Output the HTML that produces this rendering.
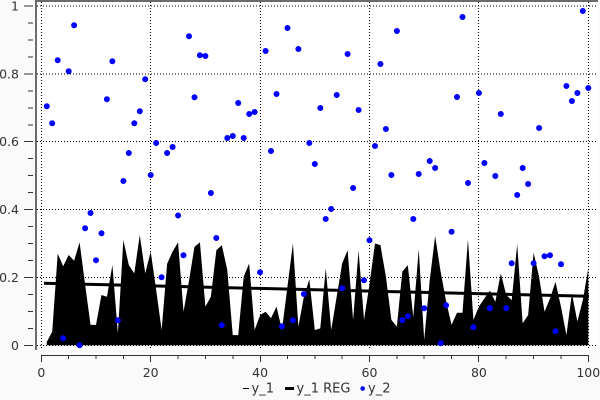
<!DOCTYPE html>
<html>
<head>
<meta charset="utf-8">
<style>
html,body{margin:0;padding:0;background:#fafafa;}
svg{display:block;}
text{font-family:"DejaVu Sans","Liberation Sans",sans-serif;fill:#333;}
</style>
</head>
<body>
<svg width="600" height="400" viewBox="0 0 600 400" xmlns="http://www.w3.org/2000/svg">
<rect x="0" y="0" width="600" height="400" fill="#fafafa"/>
<rect x="37" y="2" width="561" height="348" fill="#ffffff"/>
<rect x="35" y="0" width="563" height="2" fill="#6b6b6b"/>
<rect x="35" y="0" width="2" height="350" fill="#6b6b6b"/>
<g stroke="#000" stroke-width="1" stroke-dasharray="1,2" fill="none">
<path d="M37 6H598M37 74H598M37 141.5H598M37 209.5H598M37 277.5H598M37 345.5H598M41.5 2V350M150.5 2V350M260.5 2V350M369.5 2V350M478.5 2V350M588.5 2V350"/>
</g>
<g transform="translate(41.3,345.3) scale(5.47,-339.5)">
<polygon fill="#000" points="1,0 1,0.01 2,0.04 3,0.27 4,0.233 5,0.266 6,0.249 7,0.303 8,0.18 9,0.06 10,0.06 11,0.148 12,0.143 13,0.236 14,0.035 15,0.31 16,0.236 17,0.212 18,0.325 19,0.212 20,0.276 21,0.163 22,0.045 23,0.24 24,0.276 25,0.303 26,0.099 27,0.19 28,0.29 29,0.303 30,0.114 31,0.143 32,0.28 33,0.295 34,0.222 35,0.03 36,0.03 37,0.202 38,0.241 39,0.045 40,0.089 41,0.099 42,0.08 43,0.114 44,0.045 45,0.173 46,0.3 47,0.055 48,0.143 49,0.194 50,0.045 51,0.05 52,0.227 53,0.045 54,0.143 55,0.241 56,0.28 57,0.075 58,0.279 59,0.075 60,0.18 61,0.3 62,0.295 63,0.202 64,0.075 65,0.055 66,0.217 67,0.236 68,0.083 69,0.283 70,0.016 71,0.19 72,0.322 73,0.217 74,0.13 75,0.06 76,0.096 77,0.096 78,0.312 79,0.075 80,0.114 81,0.138 82,0.161 83,0.128 84,0.212 85,0.148 86,0.133 87,0.298 88,0.065 89,0.089 90,0.273 91,0.202 92,0.099 93,0.138 94,0.187 95,0.114 96,0.03 97,0.153 98,0.07 99,0.133 100,0.227 100,0"/>
</g>
<line x1="44" y1="283.3" x2="589" y2="296.3" stroke="#000" stroke-width="3"/>
<path fill="#0000ff" d="M46.8 106.3m-3 0a3 3 0 1 0 6 0a3 3 0 1 0 -6 0M52.2 123.3m-3 0a3 3 0 1 0 6 0a3 3 0 1 0 -6 0M57.7 60.3m-3 0a3 3 0 1 0 6 0a3 3 0 1 0 -6 0M63.2 338.3m-3 0a3 3 0 1 0 6 0a3 3 0 1 0 -6 0M68.7 71.3m-3 0a3 3 0 1 0 6 0a3 3 0 1 0 -6 0M74.1 25.3m-3 0a3 3 0 1 0 6 0a3 3 0 1 0 -6 0M79.6 345.3m-3 0a3 3 0 1 0 6 0a3 3 0 1 0 -6 0M85.1 228.3m-3 0a3 3 0 1 0 6 0a3 3 0 1 0 -6 0M90.5 213m-3 0a3 3 0 1 0 6 0a3 3 0 1 0 -6 0M96 260.3m-3 0a3 3 0 1 0 6 0a3 3 0 1 0 -6 0M101.5 233.3m-3 0a3 3 0 1 0 6 0a3 3 0 1 0 -6 0M106.9 99.3m-3 0a3 3 0 1 0 6 0a3 3 0 1 0 -6 0M112.4 61.3m-3 0a3 3 0 1 0 6 0a3 3 0 1 0 -6 0M117.9 320.3m-3 0a3 3 0 1 0 6 0a3 3 0 1 0 -6 0M123.4 181m-3 0a3 3 0 1 0 6 0a3 3 0 1 0 -6 0M128.8 153m-3 0a3 3 0 1 0 6 0a3 3 0 1 0 -6 0M134.3 123.3m-3 0a3 3 0 1 0 6 0a3 3 0 1 0 -6 0M139.8 111.3m-3 0a3 3 0 1 0 6 0a3 3 0 1 0 -6 0M145.2 79.3m-3 0a3 3 0 1 0 6 0a3 3 0 1 0 -6 0M150.7 175m-3 0a3 3 0 1 0 6 0a3 3 0 1 0 -6 0M156.2 143m-3 0a3 3 0 1 0 6 0a3 3 0 1 0 -6 0M161.6 277.3m-3 0a3 3 0 1 0 6 0a3 3 0 1 0 -6 0M167.1 153m-3 0a3 3 0 1 0 6 0a3 3 0 1 0 -6 0M172.6 147m-3 0a3 3 0 1 0 6 0a3 3 0 1 0 -6 0M178.1 215.5m-3 0a3 3 0 1 0 6 0a3 3 0 1 0 -6 0M183.5 255.3m-3 0a3 3 0 1 0 6 0a3 3 0 1 0 -6 0M189 36.3m-3 0a3 3 0 1 0 6 0a3 3 0 1 0 -6 0M194.5 97.3m-3 0a3 3 0 1 0 6 0a3 3 0 1 0 -6 0M199.9 55.3m-3 0a3 3 0 1 0 6 0a3 3 0 1 0 -6 0M205.4 56m-3 0a3 3 0 1 0 6 0a3 3 0 1 0 -6 0M210.9 193m-3 0a3 3 0 1 0 6 0a3 3 0 1 0 -6 0M216.3 238m-3 0a3 3 0 1 0 6 0a3 3 0 1 0 -6 0M221.8 325.3m-3 0a3 3 0 1 0 6 0a3 3 0 1 0 -6 0M227.3 138m-3 0a3 3 0 1 0 6 0a3 3 0 1 0 -6 0M232.8 136m-3 0a3 3 0 1 0 6 0a3 3 0 1 0 -6 0M238.2 103m-3 0a3 3 0 1 0 6 0a3 3 0 1 0 -6 0M243.7 138m-3 0a3 3 0 1 0 6 0a3 3 0 1 0 -6 0M249.2 114m-3 0a3 3 0 1 0 6 0a3 3 0 1 0 -6 0M254.6 112m-3 0a3 3 0 1 0 6 0a3 3 0 1 0 -6 0M260.1 272.3m-3 0a3 3 0 1 0 6 0a3 3 0 1 0 -6 0M265.6 51m-3 0a3 3 0 1 0 6 0a3 3 0 1 0 -6 0M271 151m-3 0a3 3 0 1 0 6 0a3 3 0 1 0 -6 0M276.5 94m-3 0a3 3 0 1 0 6 0a3 3 0 1 0 -6 0M282 326.3m-3 0a3 3 0 1 0 6 0a3 3 0 1 0 -6 0M287.5 28m-3 0a3 3 0 1 0 6 0a3 3 0 1 0 -6 0M292.9 320.3m-3 0a3 3 0 1 0 6 0a3 3 0 1 0 -6 0M298.4 49m-3 0a3 3 0 1 0 6 0a3 3 0 1 0 -6 0M303.9 294m-3 0a3 3 0 1 0 6 0a3 3 0 1 0 -6 0M309.3 143m-3 0a3 3 0 1 0 6 0a3 3 0 1 0 -6 0M314.8 164m-3 0a3 3 0 1 0 6 0a3 3 0 1 0 -6 0M320.3 108m-3 0a3 3 0 1 0 6 0a3 3 0 1 0 -6 0M325.7 219m-3 0a3 3 0 1 0 6 0a3 3 0 1 0 -6 0M331.2 209m-3 0a3 3 0 1 0 6 0a3 3 0 1 0 -6 0M336.7 95m-3 0a3 3 0 1 0 6 0a3 3 0 1 0 -6 0M342.2 288.3m-3 0a3 3 0 1 0 6 0a3 3 0 1 0 -6 0M347.6 54m-3 0a3 3 0 1 0 6 0a3 3 0 1 0 -6 0M353.1 188m-3 0a3 3 0 1 0 6 0a3 3 0 1 0 -6 0M358.6 110m-3 0a3 3 0 1 0 6 0a3 3 0 1 0 -6 0M364 280.3m-3 0a3 3 0 1 0 6 0a3 3 0 1 0 -6 0M369.5 240.3m-3 0a3 3 0 1 0 6 0a3 3 0 1 0 -6 0M375 146m-3 0a3 3 0 1 0 6 0a3 3 0 1 0 -6 0M380.4 64m-3 0a3 3 0 1 0 6 0a3 3 0 1 0 -6 0M385.9 129m-3 0a3 3 0 1 0 6 0a3 3 0 1 0 -6 0M391.4 175m-3 0a3 3 0 1 0 6 0a3 3 0 1 0 -6 0M396.9 31m-3 0a3 3 0 1 0 6 0a3 3 0 1 0 -6 0M402.3 320.3m-3 0a3 3 0 1 0 6 0a3 3 0 1 0 -6 0M407.8 316.3m-3 0a3 3 0 1 0 6 0a3 3 0 1 0 -6 0M413.3 219m-3 0a3 3 0 1 0 6 0a3 3 0 1 0 -6 0M418.7 174m-3 0a3 3 0 1 0 6 0a3 3 0 1 0 -6 0M424.2 308.3m-3 0a3 3 0 1 0 6 0a3 3 0 1 0 -6 0M429.7 161m-3 0a3 3 0 1 0 6 0a3 3 0 1 0 -6 0M435.1 168m-3 0a3 3 0 1 0 6 0a3 3 0 1 0 -6 0M440.6 343.3m-3 0a3 3 0 1 0 6 0a3 3 0 1 0 -6 0M446.1 305.3m-3 0a3 3 0 1 0 6 0a3 3 0 1 0 -6 0M451.6 231.7m-3 0a3 3 0 1 0 6 0a3 3 0 1 0 -6 0M457 97m-3 0a3 3 0 1 0 6 0a3 3 0 1 0 -6 0M462.5 17m-3 0a3 3 0 1 0 6 0a3 3 0 1 0 -6 0M468 183m-3 0a3 3 0 1 0 6 0a3 3 0 1 0 -6 0M473.4 327.3m-3 0a3 3 0 1 0 6 0a3 3 0 1 0 -6 0M478.9 93m-3 0a3 3 0 1 0 6 0a3 3 0 1 0 -6 0M484.4 163m-3 0a3 3 0 1 0 6 0a3 3 0 1 0 -6 0M489.8 308.3m-3 0a3 3 0 1 0 6 0a3 3 0 1 0 -6 0M495.3 176m-3 0a3 3 0 1 0 6 0a3 3 0 1 0 -6 0M500.8 114m-3 0a3 3 0 1 0 6 0a3 3 0 1 0 -6 0M506.3 308.3m-3 0a3 3 0 1 0 6 0a3 3 0 1 0 -6 0M511.7 263.3m-3 0a3 3 0 1 0 6 0a3 3 0 1 0 -6 0M517.2 195m-3 0a3 3 0 1 0 6 0a3 3 0 1 0 -6 0M522.7 168m-3 0a3 3 0 1 0 6 0a3 3 0 1 0 -6 0M528.1 184m-3 0a3 3 0 1 0 6 0a3 3 0 1 0 -6 0M533.6 263.3m-3 0a3 3 0 1 0 6 0a3 3 0 1 0 -6 0M539.1 128m-3 0a3 3 0 1 0 6 0a3 3 0 1 0 -6 0M544.5 256.3m-3 0a3 3 0 1 0 6 0a3 3 0 1 0 -6 0M550 255.3m-3 0a3 3 0 1 0 6 0a3 3 0 1 0 -6 0M555.5 331.3m-3 0a3 3 0 1 0 6 0a3 3 0 1 0 -6 0M561 264.3m-3 0a3 3 0 1 0 6 0a3 3 0 1 0 -6 0M566.4 86m-3 0a3 3 0 1 0 6 0a3 3 0 1 0 -6 0M571.9 101m-3 0a3 3 0 1 0 6 0a3 3 0 1 0 -6 0M577.4 93m-3 0a3 3 0 1 0 6 0a3 3 0 1 0 -6 0M582.8 11m-3 0a3 3 0 1 0 6 0a3 3 0 1 0 -6 0M588.3 88m-3 0a3 3 0 1 0 6 0a3 3 0 1 0 -6 0"/>
<path stroke="#333" stroke-width="1" fill="none" d="M24 6H33M28 23H33M28 40H33M28 57H33M24 74H33M28 91H33M28 108H33M28 125H33M24 141.5H33M28 158.5H33M28 175.5H33M28 192.5H33M24 209.5H33M28 226.5H33M28 243.5H33M28 260.5H33M24 277.5H33M28 294.5H33M28 311.5H33M28 328.5H33M24 345.5H33"/>
<g font-size="12.5" text-anchor="end">
<text x="19" y="10.5">1</text>
<text x="19" y="78.5">0.8</text>
<text x="19" y="146">0.6</text>
<text x="19" y="214">0.4</text>
<text x="19" y="282">0.2</text>
<text x="19" y="350">0</text>
</g>
<path stroke="#333" stroke-width="1" fill="none" d="M41 355.5H589M41.5 355V362M150.5 355V362M260.5 355V362M369.5 355V362M478.5 355V362M588.5 355V362M68.5 355V359M96 355V359M123.5 355V359M178 355V359M205.5 355V359M233 355V359M287.5 355V359M315 355V359M342 355V359M397 355V359M424 355V359M451.5 355V359M506 355V359M533.5 355V359M561 355V359"/>
<g font-size="12.5" text-anchor="middle">
<text x="41.3" y="377">0</text>
<text x="150.7" y="377">20</text>
<text x="260.1" y="377">40</text>
<text x="369.5" y="377">60</text>
<text x="478.9" y="377">80</text>
<text x="588.3" y="377">100</text>
</g>
<line x1="243" y1="388.5" x2="249" y2="388.5" stroke="#000" stroke-width="1"/>
<text x="251.5" y="392.5" font-size="13">y_1</text>
<line x1="285" y1="388.5" x2="294" y2="388.5" stroke="#000" stroke-width="3"/>
<text x="296.5" y="392.5" font-size="13">y_1 REG</text>
<circle cx="362.7" cy="388.5" r="2.3" fill="#0000ff"/>
<text x="368" y="392.5" font-size="13">y_2</text>
</svg>
</body>
</html>
